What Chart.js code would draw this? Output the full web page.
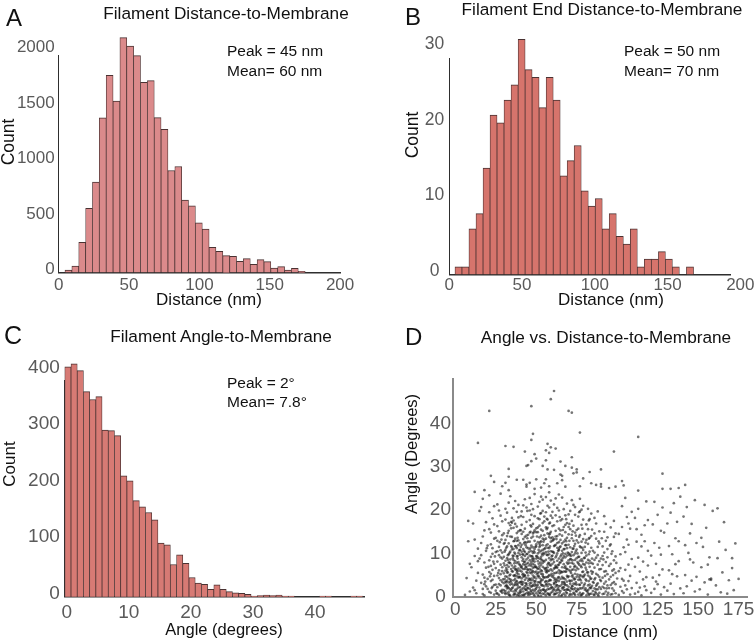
<!DOCTYPE html>
<html><head><meta charset="utf-8">
<script src="https://cdn.jsdelivr.net/npm/chart.js@4.4.1/dist/chart.umd.min.js"></script>
<style>
html,body{margin:0;padding:0;width:754px;height:643px;overflow:hidden;background:#fff;}
canvas{position:absolute;left:0;top:0;}
.t{position:absolute;white-space:nowrap;font-family:'Liberation Sans',Arial,Helvetica,sans-serif;color:#111;line-height:1;}
.c{transform:translate(-50%,-50%);}
.l{transform:translateY(-50%);}
.r{transform:translate(-50%,-50%) rotate(-90deg);}
</style></head><body>
<canvas id="cA" width="800" height="643"></canvas>
<canvas id="cB" width="800" height="643"></canvas>
<canvas id="cC" width="800" height="643"></canvas>
<canvas id="cD" width="800" height="643"></canvas>

<div class="t l" style="left:6px;top:18px;font-size:24px">A</div>
<div class="t l" style="left:405px;top:17px;font-size:24px">B</div>
<div class="t l" style="left:4px;top:335px;font-size:25px">C</div>
<div class="t l" style="left:405px;top:337px;font-size:24px">D</div>

<div class="t c" style="left:226px;top:14px;font-size:17.2px">Filament Distance-to-Membrane</div>
<div class="t c" style="left:602px;top:9.5px;font-size:17.2px">Filament End Distance-to-Membrane</div>
<div class="t c" style="left:221px;top:337px;font-size:17.2px">Filament Angle-to-Membrane</div>
<div class="t c" style="left:606px;top:338px;font-size:17.2px">Angle vs. Distance-to-Membrane</div>

<div class="t l" style="left:227px;top:51px;font-size:15.5px">Peak = 45 nm</div>
<div class="t l" style="left:227px;top:71px;font-size:15.5px">Mean= 60 nm</div>
<div class="t l" style="left:624px;top:51px;font-size:15.5px">Peak = 50 nm</div>
<div class="t l" style="left:624px;top:71px;font-size:15.5px">Mean= 70 nm</div>
<div class="t l" style="left:227px;top:383px;font-size:15.5px">Peak = 2°</div>
<div class="t l" style="left:227px;top:402px;font-size:15.5px">Mean= 7.8°</div>

<div class="t c" style="left:209px;top:299px;font-size:17px">Distance (nm)</div>
<div class="t c" style="left:611px;top:299px;font-size:17px">Distance (nm)</div>
<div class="t c" style="left:224px;top:629px;font-size:16.5px">Angle (degrees)</div>
<div class="t c" style="left:605px;top:631px;font-size:17px">Distance (nm)</div>
<div class="t r" style="left:9px;top:142px;font-size:17.5px">Count</div>
<div class="t r" style="left:413px;top:135px;font-size:17.5px">Count</div>
<div class="t r" style="left:9px;top:464px;font-size:17px">Count</div>
<div class="t r" style="left:411px;top:454px;font-size:16.5px">Angle (Degrees)</div>

<script>
// ---------- DATA ----------
// Panel A: filament distance-to-membrane histogram (bin centres, nm)
const distBinsA = [6.9,11.8,16.7,21.6,26.4,31.3,36.2,41.1,45.9,50.8,55.7,60.6,65.5,70.3,75.2,80.1,85.0,89.8,94.7,99.6,104.5,109.3,114.2,119.1,124.0,128.8,133.7,138.6,143.5,148.3,153.2,158.1,163.0,167.8,172.7];
const countsA   = [21,57,270,577,814,1394,1778,1544,2117,2042,1955,1715,1730,1396,1291,919,955,652,600,447,390,225,189,150,144,99,123,72,114,96,39,51,21,36,9];
// Panel B: filament end distance-to-membrane histogram
const distBinsB = [6.3,11.1,15.9,20.8,25.6,30.4,35.2,40.0,44.9,49.7,54.5,59.3,64.1,69.0,73.8,78.6,83.4,88.2,93.1,97.9,102.7,107.5,112.3,117.2,122.0,126.8,131.6,136.4,141.3,146.1,150.9,155.7,160.5,165.4];
const countsB   = [1,1,6,8,14,21,20,23,25,31,27,26,22,26,23,13,15,17,11,9,10,6,8,5,4,6,1,2,2,3,2,1,0,1];
// Panel C: filament angle-to-membrane histogram (bin centres, degrees)
const angleBinsC = [0.2,1.2,2.2,3.2,4.2,5.2,6.2,7.2,8.2,9.2,10.2,11.2,12.2,13.2,14.2,15.2,16.2,17.2,18.2,19.2,20.2,21.2,22.2,23.2,24.2,25.2,26.2,27.2,28.2,29.2,30.2,31.2,32.2,33.2,34.2,35.2,36.2,37.2,38.2,39.2,40.2,41.2,42.2,43.2,44.2,45.2,46.2,47.2];
const countsC    = [407,412,400,363,349,354,295,294,285,214,205,170,159,149,136,95,92,57,74,59,34,24,22,13,21,13,9,7,6,4,1,2,3,2,3,1,1,0,0,0,0,1,1,0,0,0,1,1];
// Tick labels
const ticksA_x = [0,50,100,150,200];
const ticksA_y = [0,500,1000,1500,2000];
const ticksB_x = [0,50,100,150,200];
const ticksB_y = [0,10,20,30];
const ticksC_x = [0,10,20,30,40];
const ticksC_y = [0,100,200,300,400];
const ticksD_x = [0,25,50,75,100,125,150,175];
const ticksD_y = [0,10,20,30,40];
// Panel D: angle (degrees) vs distance (nm) scatter, [distance, angle]
const scatterPoints = [
[7,4.3],[8,12.8],[9,1.2],[6,0.4],[9,7.6],[8,17.5],
[11,2.1],[12,9.4],[13,0.8],[11,16.9],[14,5.5],[12,13.2],[13,3.7],[14,11.1],[10,6.8],[15,19.8],[12,1.5],[14,8.2],
[16,3.2],[17,0.6],[18,7.9],[16,12.4],[19,2.4],[17,5.1],[18,15.3],[19,10.6],[16,20.7],[17,1.8],[18,4.4],[19,6.7],[15,8.8],[17,13.9],[18,0.3],[19,17.2],[16,9.6],[18,2.9],[20,11.8],[17,22.6],
[21,1.1],[22,3.6],[23,6.2],[24,0.5],[21,8.4],[22,12.1],[23,2.3],[24,4.8],[21,15.6],[22,7.1],[23,9.9],[24,13.4],[20,4.1],[21,5.7],[22,0.9],[23,18.1],[24,2.7],[25,10.3],[21,19.5],[22,14.8],[23,3.9],[24,7.6],[20,1.8],[22,5.3],[23,11.2],[24,16.7],[25,1.4],[21,23.4],[22,9.2],[24,20.9],
[26,0.7],[27,2.9],[28,5.2],[29,1.6],[26,8.1],[27,4.3],[28,10.7],[29,3.4],[25,6.6],[26,12.9],[27,0.4],[28,7.4],[29,14.2],[26,2.2],[27,9.6],[28,1.3],[29,5.9],[30,3.1],[26,16.3],[27,11.5],[28,18.7],[29,8.8],[25,13.6],[26,4.9],[27,6.1],[28,2.6],[29,0.9],[30,12.2],[26,21.3],[27,15.1],[28,3.8],[29,10.2],[25,2.8],[27,19.9],[28,9.1],[29,6.8],[30,7.7],[26,10.5],[28,23.8],[29,17.4],
[31,0.6],[32,1.9],[33,3.3],[34,0.2],[31,4.7],[32,6.2],[33,1.1],[34,2.8],[30,5.4],[31,8.3],[32,3.7],[33,9.8],[34,5.1],[31,2.4],[32,11.6],[33,6.9],[34,7.7],[30,1.5],[31,13.1],[32,0.8],[33,4.2],[34,10.4],[35,3.0],[31,6.0],[32,8.9],[33,15.2],[34,1.7],[30,9.2],[31,17.8],[32,5.6],[33,12.3],[34,13.9],[35,7.2],[31,10.8],[32,2.5],[33,0.5],[34,4.0],[30,14.6],[31,3.5],[32,19.4],[33,7.9],[34,16.5],[35,11.4],[32,14.0],[33,21.7],[34,8.6],[31,20.3],[32,7.3],[33,2.0],[34,3.4],[35,18.2],[31,1.3],[33,17.0],[34,23.2],[32,4.6],
[36,0.4],[37,1.6],[38,2.9],[39,0.9],[36,3.8],[37,5.0],[38,0.3],[39,4.4],[35,1.9],[36,6.7],[37,2.7],[38,7.8],[39,2.1],[36,9.4],[37,8.2],[38,5.5],[39,10.1],[35,5.9],[36,1.2],[37,11.7],[38,3.6],[39,6.5],[40,1.4],[36,12.8],[37,4.1],[38,9.3],[39,13.0],[35,10.9],[36,4.9],[37,0.7],[38,14.7],[39,8.0],[40,6.0],[36,15.9],[37,6.3],[38,1.8],[39,3.2],[35,13.8],[36,8.5],[37,16.8],[38,11.2],[39,18.3],[40,9.7],[36,2.6],[37,13.4],[38,19.6],[39,15.1],[35,17.1],[36,20.4],[37,9.9],[38,6.1],[39,0.5],[40,12.4],[36,11.0],[37,22.1],[38,4.7],[39,11.9],[40,3.3],[37,3.1],[38,16.2],[39,21.2],[36,17.6],[37,7.0],[38,12.9],[39,5.2],
[41,0.3],[42,1.2],[43,2.4],[44,0.8],[41,3.5],[42,4.6],[43,0.6],[44,3.0],[40,2.2],[41,5.8],[42,2.0],[43,6.4],[44,5.7],[41,1.7],[42,7.5],[43,3.9],[44,8.6],[40,4.5],[41,9.1],[42,0.4],[43,10.3],[44,1.5],[45,3.7],[41,7.0],[42,5.3],[43,8.1],[44,11.4],[40,7.3],[41,12.0],[42,9.7],[43,1.8],[44,6.9],[45,9.0],[41,4.2],[42,13.3],[43,5.0],[44,2.6],[40,10.8],[41,14.5],[42,3.3],[43,12.6],[44,14.1],[45,6.2],[41,10.4],[42,11.0],[43,15.7],[44,4.3],[40,0.9],[41,16.6],[42,6.4],[43,7.3],[44,17.3],[45,12.7],[41,2.9],[42,18.4],[43,9.4],[44,9.8],[40,15.4],[41,19.7],[42,15.0],[43,13.8],[44,20.6],[45,1.0],[42,8.7],[43,22.5],[44,12.5],[41,6.6],[43,4.7],[44,7.6],[42,21.1],
[46,0.5],[47,1.4],[48,2.6],[49,0.2],[46,3.1],[47,4.2],[48,0.9],[49,3.5],[45,2.0],[46,5.6],[47,2.3],[48,5.9],[49,6.8],[46,1.8],[47,7.1],[48,3.8],[49,1.3],[45,4.9],[46,8.4],[47,0.7],[48,9.0],[49,4.6],[50,2.7],[46,6.3],[47,5.4],[48,7.6],[49,10.2],[45,7.8],[46,10.9],[47,9.3],[48,1.6],[49,8.1],[50,5.8],[46,4.0],[47,11.8],[48,4.9],[49,2.5],[45,11.2],[46,12.7],[47,3.2],[48,11.4],[49,12.9],[50,8.8],[46,2.6],[47,13.6],[48,6.7],[49,5.6],[45,0.4],[46,14.8],[47,8.0],[48,13.9],[49,15.3],[50,11.6],[46,9.5],[47,16.2],[48,10.1],[49,7.3],[45,14.3],[46,17.7],[47,6.2],[48,16.8],[49,18.6],[50,0.8],[46,19.9],[47,18.9],[48,8.3],[49,11.0],[47,21.4],[48,20.2],[49,3.0],[46,22.8],[48,14.6],[49,23.7],[47,10.5],[50,14.9],
[51,0.4],[52,1.5],[53,2.8],[54,0.7],[51,3.3],[52,4.4],[53,0.2],[54,3.9],[50,1.9],[51,5.5],[52,2.1],[53,6.1],[54,5.2],[51,1.2],[52,7.0],[53,4.0],[54,1.6],[50,4.2],[51,8.2],[52,0.9],[53,8.7],[54,7.8],[55,2.4],[51,6.4],[52,5.7],[53,1.4],[54,9.6],[50,6.9],[51,10.0],[52,8.8],[53,10.6],[54,2.6],[55,6.6],[51,2.7],[52,11.5],[53,5.3],[54,11.9],[50,9.4],[51,12.6],[52,3.4],[53,12.8],[54,4.8],[55,9.9],[51,4.7],[52,13.7],[53,7.4],[54,13.4],[50,12.1],[51,14.9],[52,6.5],[53,15.5],[54,6.9],[55,13.2],[51,9.0],[52,16.4],[53,9.2],[54,17.0],[50,15.8],[51,18.1],[52,10.3],[53,19.3],[54,15.2],[55,0.6],[51,20.8],[52,17.9],[53,3.6],[54,19.8],[52,21.9],[53,14.1],[54,10.8],[51,16.0],[53,23.1],[52,12.2],[55,18.5],[54,22.4],
[56,0.3],[57,1.7],[58,2.9],[59,0.9],[56,3.6],[57,4.5],[58,0.5],[59,3.8],[55,1.5],[56,5.8],[57,2.4],[58,6.0],[59,6.3],[56,1.4],[57,7.4],[58,3.7],[59,1.9],[55,4.4],[56,8.5],[57,0.8],[58,8.9],[59,8.4],[60,2.1],[56,6.6],[57,5.9],[58,1.8],[59,10.5],[55,8.1],[56,10.3],[57,9.6],[58,11.2],[59,4.9],[60,6.0],[56,2.8],[57,12.1],[58,5.0],[59,12.7],[55,11.0],[56,13.4],[57,3.5],[58,13.8],[59,2.7],[60,9.5],[56,4.5],[57,14.6],[58,7.7],[59,15.0],[55,14.2],[56,16.0],[57,6.8],[58,16.9],[59,7.2],[60,12.9],[56,11.8],[57,17.8],[58,9.8],[59,18.7],[55,17.4],[56,19.5],[57,11.3],[58,20.6],[59,13.5],[60,16.3],[57,21.0],[58,14.4],[59,22.2],[56,23.0],[58,24.1],[60,19.6],[57,15.9],
[61,0.5],[62,1.4],[63,2.6],[64,0.3],[61,3.2],[62,4.1],[63,0.9],[64,3.6],[60,1.1],[61,5.4],[62,2.3],[63,5.6],[64,6.1],[61,1.8],[62,7.2],[63,3.9],[64,1.5],[60,4.6],[61,8.0],[62,0.6],[63,8.3],[64,8.8],[65,2.5],[61,6.5],[62,5.5],[63,1.6],[64,10.7],[60,7.6],[61,10.1],[62,9.1],[63,11.3],[64,4.5],[65,5.9],[61,2.9],[62,12.0],[63,6.7],[64,12.6],[60,10.4],[61,13.3],[62,3.3],[63,14.0],[64,2.4],[65,9.3],[61,4.3],[62,15.2],[63,10.0],[64,15.7],[60,13.7],[61,16.5],[62,6.9],[63,17.4],[64,7.4],[65,13.1],[61,11.7],[62,18.8],[63,12.4],[64,19.9],[60,18.2],[61,21.3],[62,13.9],[63,20.5],[64,11.0],[65,17.6],[62,22.7],[64,23.6],
[66,0.4],[67,1.6],[68,2.7],[69,0.8],[66,3.4],[67,4.3],[68,0.3],[69,3.5],[65,1.3],[66,5.7],[67,2.2],[68,5.8],[69,6.4],[66,1.9],[67,7.5],[68,4.0],[69,1.7],[65,4.1],[66,8.3],[67,0.7],[68,9.1],[69,9.5],[70,2.3],[66,6.8],[67,5.8],[68,1.5],[69,11.2],[65,7.9],[66,10.6],[67,9.4],[68,11.9],[69,4.8],[70,6.2],[66,2.9],[67,12.7],[68,7.0],[69,13.6],[65,11.6],[66,14.1],[67,3.4],[68,14.9],[69,2.6],[70,10.0],[66,4.6],[67,16.1],[68,9.9],[69,17.0],[65,15.3],[66,17.9],[67,11.0],[68,18.8],[69,7.9],[70,14.4],[66,12.3],[67,20.2],[68,13.2],[69,21.5],[66,22.9],[68,16.6],[70,19.0],
[71,0.6],[72,1.8],[73,3.0],[74,0.4],[71,3.6],[72,4.7],[73,0.9],[74,4.1],[70,1.6],[71,5.9],[72,2.5],[73,6.3],[74,7.1],[71,1.3],[72,7.8],[73,4.4],[74,1.9],[70,4.7],[71,8.7],[72,0.5],[73,9.6],[74,10.0],[75,2.8],[71,6.9],[72,6.2],[73,1.7],[74,12.2],[70,8.4],[71,11.4],[72,10.3],[73,12.9],[74,5.3],[75,6.7],[71,3.0],[72,13.5],[73,7.6],[74,14.8],[70,12.0],[71,15.6],[72,3.7],[73,16.4],[74,2.9],[75,10.9],[71,9.8],[72,17.5],[73,11.1],[74,18.9],[70,16.1],[71,19.8],[72,14.3],[73,21.2],[74,8.5],[75,15.4],[72,22.3],[74,20.7],
[76,0.5],[77,1.9],[78,3.2],[79,0.8],[76,3.9],[77,5.0],[78,0.4],[79,4.5],[75,1.2],[76,6.4],[77,2.7],[78,6.8],[79,7.5],[76,1.6],[77,8.3],[78,4.8],[79,2.1],[75,4.6],[76,9.2],[77,0.9],[78,10.1],[79,10.8],[80,3.0],[76,7.7],[77,11.6],[78,1.9],[79,13.3],[75,8.9],[76,12.5],[77,14.2],[78,8.6],[79,5.8],[80,7.4],[76,15.7],[77,4.1],[78,16.6],[79,17.8],[75,13.0],[76,18.5],[77,19.7],[78,12.7],[79,21.0],[80,11.5],[77,22.6],[78,20.1],
[81,0.3],[82,1.5],[83,2.8],[84,0.7],[81,3.7],[82,4.9],[83,0.6],[84,4.2],[80,1.6],[81,6.2],[82,2.6],[83,6.9],[84,7.8],[81,1.4],[82,8.5],[83,4.6],[84,2.0],[80,5.1],[81,9.5],[82,0.8],[83,10.4],[84,11.3],[85,3.4],[81,7.9],[82,12.2],[83,1.9],[84,14.0],[80,9.0],[81,13.1],[82,15.6],[83,8.3],[84,5.9],[85,7.6],[81,16.7],[82,5.6],[83,17.9],[84,19.2],[80,14.5],[82,20.3],[83,13.6],
[86,0.4],[87,1.7],[88,3.1],[89,0.9],[86,4.0],[87,5.3],[88,0.5],[89,4.6],[85,1.3],[86,6.7],[87,2.5],[88,7.4],[89,8.2],[86,1.9],[87,9.0],[88,5.0],[89,2.2],[85,5.7],[86,10.2],[87,0.8],[88,11.5],[89,12.3],[90,3.6],[86,8.5],[87,13.4],[88,1.7],[89,15.1],[85,10.6],[86,14.6],[87,16.9],[88,9.6],[89,6.3],[90,8.8],[86,18.2],[88,19.7],
[91,0.6],[92,2.0],[93,3.5],[94,0.4],[91,4.4],[92,5.8],[93,1.2],[94,5.2],[90,1.8],[91,7.3],[92,3.0],[93,8.0],[94,9.1],[91,2.3],[92,10.2],[93,5.9],[94,2.6],[90,6.4],[91,11.6],[92,0.7],[93,12.9],[94,13.7],[95,4.0],[91,9.4],[92,15.0],[93,16.8],[94,11.0],[92,18.6],
[96,0.5],[97,1.9],[98,3.4],[99,0.8],[96,4.6],[97,6.0],[98,1.4],[99,5.5],[95,2.0],[96,7.6],[97,3.1],[98,8.4],[99,9.3],[96,2.7],[97,10.5],[98,6.3],[99,2.9],[95,7.1],[96,12.1],[97,0.6],[98,13.8],[99,14.6],[100,4.2],[96,16.0],[98,17.5],
[101,0.4],[102,2.3],[103,4.1],[104,0.9],[105,6.2],[106,1.7],[107,3.6],[108,0.5],[109,8.7],[101,5.9],[102,9.8],[103,1.3],[104,11.4],[105,2.6],[106,13.2],[107,7.4],[108,4.8],[109,2.0],[101,14.5],[102,6.6],[103,16.1],[104,3.7],[105,10.3],[106,18.4],[107,12.0],[108,15.7],[109,19.6],[103,20.9],[105,22.8],[107,16.9],
[111,0.7],[112,3.2],[113,1.1],[114,5.8],[115,0.3],[116,8.1],[117,2.4],[118,4.5],[119,10.6],[111,6.9],[112,12.7],[113,9.0],[114,2.1],[115,14.3],[116,4.0],[117,16.5],[118,1.5],[119,7.2],[111,18.2],[113,20.3],[115,11.6],[117,12.8],[118,22.0],[119,17.7],[112,15.6],
[121,0.9],[122,4.4],[123,1.8],[124,7.6],[125,2.9],[126,11.3],[127,0.5],[128,6.3],[129,14.8],[121,9.5],[122,16.7],[123,12.4],[124,3.5],[125,18.9],[126,5.0],[127,9.7],[128,20.6],[129,2.2],[123,21.9],[127,15.2],
[131,1.4],[132,6.1],[133,3.0],[134,9.8],[135,0.6],[136,13.5],[137,4.7],[138,8.2],[139,1.9],[131,16.9],[132,11.7],[133,19.4],[134,5.2],[135,21.6],[136,7.5],[137,17.3],[138,12.8],[139,23.1],
[141,0.8],[142,5.0],[143,2.4],[144,10.1],[145,14.6],[146,3.7],[147,7.9],[148,1.2],[149,12.4],[141,18.5],[143,20.7],[145,8.6],[146,16.8],[148,22.3],[149,4.6],[142,11.9],
[151,1.7],[152,6.8],[153,11.5],[154,3.3],[155,15.9],[156,0.5],[157,9.1],[158,4.2],[159,19.8],[152,13.6],[154,21.2],[156,7.4],[158,3.9],[157,4.0],
[161,2.6],[162,8.9],[163,12.7],[164,1.0],[165,5.6],[166,17.2],[167,10.8],[168,0.7],[169,3.8],[162,20.4],
[171,6.6],[172,1.5],[173,12.3],[175,4.1],[171,8.9],
[61,47.5],[59,45.6],[47,44.0],[21,42.9],[70,42.9],[72,42.5],[77,37.9],[113,36.9],[48,37.6],[47,36.2],[14,35.5],[31,34.8],[36,34.6],[57,35.3],[59,34.5],[56,33.8],[62,34.2],[43,33.5],[58,33.2],[98,33.5],[49,32.9],[72,32.2],[50,31.9],[56,31.5],[47,31.3],[45,30.4],[44,30.2],[54,30.2],[65,31.2],[68,30.2],[33,29.5],[57,29.4],[61,29.3],[72,29.8],[75,29.4],[83,28.8],[90,29.4],[128,28.4],[75,28.7],[73,28.5],[65,28.2],[66,27.9],[22,27.9],[33,27.7],[24,26.5],[38,27.0],[42,27.0],[50,27.1],[56,27.1],[44,25.9],[46,26.3],[31,26.3],[29,25.5],[33,24.6],[44,25.4],[49,24.9],[53,25.2],[58,25.5],[55,26.2],[63,26.2],[66,26.9],[68,25.4],[77,25.5],[79,27.3],[84,26.2],[87,25.8],[90,26.0],[90,25.4],[95,25.1],[99,25.4],[103,26.7],[104,25.7],[113,24.5],[128,24.9],[133,24.9],[138,25.1],[142,25.8],[12,24.2],[18,24.6],
[30.5,0.9],[32.5,2.2],[34.5,1.4],[36.5,0.6],[38.5,2.6],[40.5,1.1],[42.5,0.3],[44.5,2.0],[46.5,1.2],[48.5,0.5],[50.5,2.3],[52.5,0.8],[54.5,1.7],[56.5,2.9],[58.5,0.4],[60.5,1.5],[62.5,2.7],[64.5,0.9],[66.5,2.1],[68.5,1.0],[70.5,0.3],[72.5,2.4],[74.5,1.3],[76.5,2.8],[78.5,0.6],[80.5,1.9],[82.5,0.4],[84.5,2.5],[86.5,1.1],[88.5,0.2],
[31.5,2.6],[33.5,0.4],[35.5,2.1],[37.5,1.3],[39.5,0.2],[41.5,2.8],[43.5,1.6],[45.5,0.8],[47.5,2.5],[49.5,1.7],[51.5,0.1],[53.5,2.6],[55.5,1.1],[57.5,0.6],[59.5,2.2],[61.5,0.7],[63.5,1.9],[65.5,0.2],[67.5,2.9],[69.5,1.6],[71.5,2.0],[73.5,0.7],[75.5,1.8],[77.5,0.3],[79.5,2.6],[81.5,1.2],[83.5,2.2],[85.5,0.5],[87.5,2.8],
[30.5,4.1],[32.5,5.6],[34.5,3.7],[36.5,4.8],[38.5,5.9],[40.5,3.4],[42.5,4.9],[44.5,5.5],[46.5,3.8],[48.5,4.4],[50.5,5.2],[52.5,3.2],[54.5,4.5],[56.5,5.6],[58.5,3.9],[60.5,4.9],[62.5,3.5],[64.5,5.4],[66.5,4.2],[68.5,5.8],[70.5,3.7],[72.5,5.0],[74.5,3.3],[76.5,4.6],[78.5,5.7],[80.5,4.0],[82.5,3.6],[84.5,5.3],[86.5,4.3],
[31.5,3.3],[33.5,4.9],[35.5,5.8],[37.5,3.5],[39.5,4.6],[41.5,5.1],[43.5,3.1],[45.5,4.2],[47.5,5.7],[49.5,3.6],[51.5,4.8],[53.5,5.9],[55.5,3.4],[57.5,4.7],[59.5,5.3],[61.5,3.8],[63.5,4.4],[65.5,5.6],[67.5,3.2],[69.5,4.5],[71.5,5.5],[73.5,4.0],[75.5,5.1],[77.5,3.8],[79.5,4.8],[81.5,5.6],[83.5,4.1],[85.5,3.2],
[30.5,7.2],[32.5,8.5],[34.5,6.4],[36.5,7.7],[38.5,8.8],[40.5,6.9],[42.5,8.0],[44.5,6.3],[46.5,7.5],[48.5,8.7],[50.5,6.6],[52.5,7.9],[54.5,8.3],[56.5,6.2],[58.5,7.3],[60.5,8.6],[62.5,6.8],[64.5,7.9],[66.5,8.9],[68.5,6.5],[70.5,7.8],[72.5,8.4],[74.5,6.1],[76.5,7.4],[78.5,8.2],[80.5,6.7],[82.5,7.7],[84.5,8.8],
[31.5,6.6],[33.5,7.9],[35.5,8.9],[37.5,6.4],[39.5,7.5],[41.5,8.3],[43.5,6.8],[45.5,7.2],[47.5,8.6],[49.5,6.9],[51.5,7.6],[53.5,8.4],[55.5,6.3],[57.5,7.8],[59.5,8.7],[61.5,6.6],[63.5,7.3],[65.5,8.5],[67.5,6.7],[69.5,7.6],[71.5,8.6],[73.5,6.9],[75.5,8.0],[77.5,7.1],[79.5,8.9],
[30.5,10.4],[32.5,9.6],[34.5,11.7],[36.5,10.2],[38.5,9.4],[40.5,11.5],[42.5,10.6],[44.5,9.9],[46.5,11.3],[48.5,10.5],[50.5,9.3],[52.5,11.8],[54.5,10.1],[56.5,9.7],[58.5,11.6],[60.5,10.3],[62.5,9.5],[64.5,11.4],[66.5,10.0],[68.5,11.9],[70.5,9.6],[72.5,11.1],[74.5,10.5],[76.5,9.2],[78.5,11.3],[80.5,10.2],[82.5,9.8],
[31.5,11.3],[33.5,10.1],[35.5,9.5],[37.5,11.6],[39.5,10.7],[41.5,9.8],[43.5,11.9],[45.5,10.3],[47.5,9.4],[49.5,11.5],[51.5,10.8],[53.5,9.9],[55.5,11.2],[57.5,10.4],[59.5,9.3],[61.5,11.8],[63.5,10.6],[65.5,9.7],[67.5,11.0],[69.5,10.2],[71.5,9.4],[73.5,11.7],[75.5,10.0],[77.5,11.4],
[28.5,13.2],[32.5,14.7],[36.5,12.9],[40.5,15.3],[44.5,13.5],[48.5,14.9],[52.5,12.6],[56.5,15.6],[60.5,13.1],[64.5,14.4],[68.5,12.8],[72.5,15.1],[76.5,13.8],[80.5,12.5],[84.5,15.5],
[30.5,12.4],[34.5,15.8],[38.5,13.6],[42.5,12.3],[46.5,15.0],[50.5,13.9],[54.5,12.7],[58.5,14.6],[62.5,13.3],[66.5,15.4],[70.5,12.9],[74.5,14.1],[78.5,15.7],[82.5,13.4],[88.5,12.8],
[34.5,17.3],[40.5,18.6],[46.5,16.5],[52.5,19.2],[58.5,17.1],[64.5,18.4],[70.5,16.8],[76.5,19.5],[82.5,17.6],[44.5,19.8],[56.5,18.0],[68.5,17.9],
[18.5,3.5],[20.5,6.9],[22.5,2.0],[24.5,9.3],[26.5,5.5],[28.5,1.2],[19.5,11.2],[21.5,4.7],[23.5,8.1],[25.5,0.8],[27.5,12.6],[29.5,4.0],
[89.5,3.9],[91.5,8.6],[93.5,1.9],[95.5,11.8],[97.5,5.0],[99.5,7.8],[90.5,13.5],[92.5,4.8],[94.5,0.9],[96.5,9.9]
];

// ---------- CHARTS ----------
const FONT = "'Liberation Sans', Arial, Helvetica, sans-serif";
Chart.defaults.font.family = FONT;
Chart.defaults.animation = false;
const CW = 800, CH = 643, YW = 50, XH = 40;

function axis(o) {
  return {
    type: 'linear', min: o.min, max: o.max, offset: false, z: 1,
    grid: { display: false, drawTicks: false },
    border: { display: true, color: o.lineColor, width: o.lineWidth },
    afterBuildTicks: s => { s.ticks = o.ticks.map(v => ({ value: v })); },
    afterFit: s => { if (o.w) s.width = o.w; if (o.h) s.height = o.h; },
    ticks: {
      color: '#5a5a5a', font: { size: o.fontSize }, padding: o.pad,
      autoSkip: false, maxRotation: 0, minRotation: 0,
      labelOffset: o.labelOffset || 0, crossAlign: o.crossAlign || 'near',
      callback: v => String(v)
    }
  };
}

function layoutFor(a) {
  return { padding: { left: a.l - YW, top: a.t, right: CW - a.r, bottom: CH - a.b - XH } };
}

function hist(id, bins, counts, fill, area, xo, yo) {
  new Chart(document.getElementById(id), {
    type: 'bar',
    data: { datasets: [{
      data: bins.map((b, i) => ({ x: b, y: counts[i] })),
      backgroundColor: fill, borderColor: '#4a3232',
      borderWidth: { top: 1, left: 0.75, right: 0.75, bottom: 0 },
      barThickness: 'flex', categoryPercentage: 1, barPercentage: 1, clip: false
    }] },
    options: {
      responsive: false, animation: false, events: [],
      layout: layoutFor(area),
      plugins: { legend: { display: false }, tooltip: { enabled: false } },
      scales: { x: axis(Object.assign({ h: XH }, xo)), y: axis(Object.assign({ w: YW }, yo)) }
    }
  });
}

hist('cA', distBinsA, countsA, '#db8a8b',
  { l: 58.7, r: 340.1, t: 55.1, b: 272.3 },
  { min: 0, max: 200, ticks: ticksA_x, fontSize: 17, pad: 3, lineColor: '#2e2e2e', lineWidth: 1.5 },
  { min: 0, max: 1960, ticks: ticksA_y, fontSize: 17, pad: 4, labelOffset: -3, lineColor: '#2e2e2e', lineWidth: 1 });

hist('cB', distBinsB, countsB, '#d6746c',
  { l: 449.3, r: 730, t: 58.3, b: 274.3 },
  { min: 0, max: 192.9, ticks: ticksB_x, fontSize: 17, pad: 1, lineColor: '#2e2e2e', lineWidth: 1.5 },
  { min: 0, max: 28.5, ticks: ticksB_y, fontSize: 17.5, pad: 5, labelOffset: -3, crossAlign: 'center', lineColor: '#2e2e2e', lineWidth: 1 });

hist('cC', angleBinsC, countsC, '#d77a74',
  { l: 64.8, r: 364.1, t: 380, b: 596.7 },
  { min: -0.3, max: 47.9, ticks: ticksC_x, fontSize: 19, pad: 5, lineColor: '#2e2e2e', lineWidth: 1.5 },
  { min: 0, max: 383.5, ticks: ticksC_y, fontSize: 19, pad: 5, labelOffset: -3, lineColor: '#2e2e2e', lineWidth: 1 });

new Chart(document.getElementById('cD'), {
  type: 'scatter',
  data: { datasets: [{
    data: scatterPoints.map(p => ({ x: p[0], y: p[1] })),
    pointRadius: 1.35, pointBackgroundColor: 'rgba(25,25,25,0.6)', pointBorderWidth: 0
  }] },
  options: {
    responsive: false, animation: false, events: [],
    layout: layoutFor({ l: 453, r: 747, t: 379.3, b: 596.7 }),
    plugins: { legend: { display: false }, tooltip: { enabled: false } },
    scales: {
      x: axis({ h: XH, min: -1.4, max: 180.2, ticks: ticksD_x, fontSize: 19, pad: 2, lineColor: '#8a8a8a', lineWidth: 2 }),
      y: axis({ w: YW, min: 0, max: 50.2, ticks: ticksD_y, fontSize: 19, pad: 2, crossAlign: 'center', lineColor: '#8a8a8a', lineWidth: 2 })
    }
  }
});
</script>
</body></html>
